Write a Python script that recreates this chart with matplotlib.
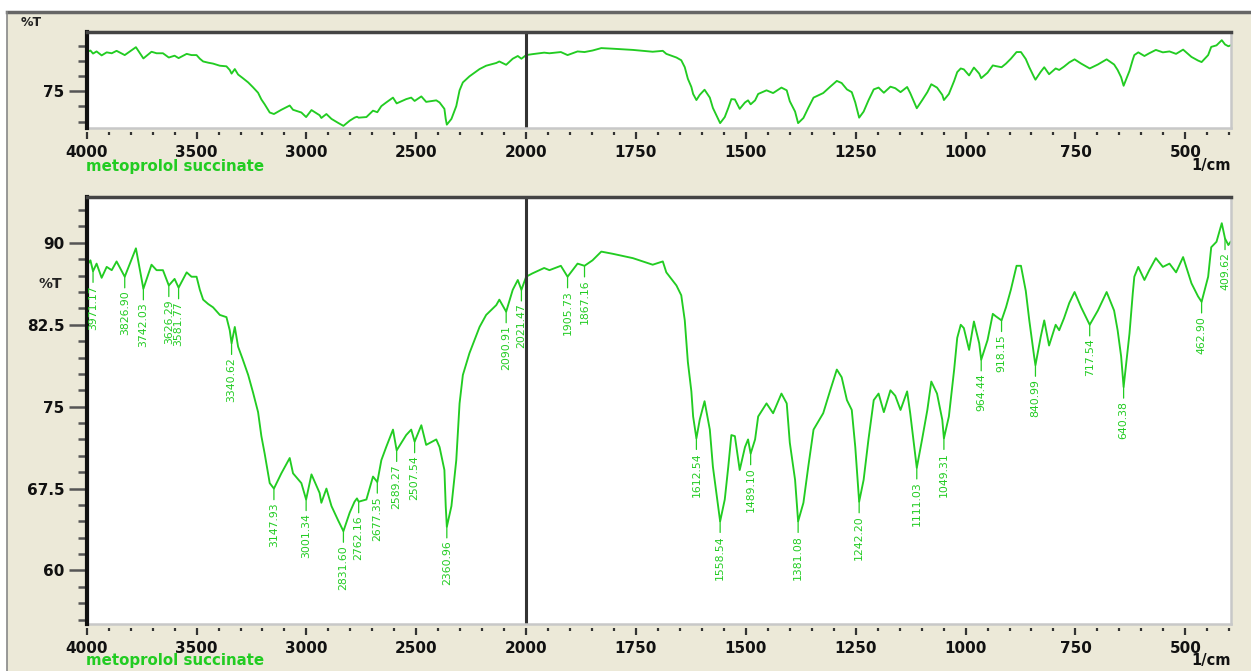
import numpy as np
import matplotlib.pyplot as plt
from matplotlib.patches import Rectangle
from matplotlib.lines import Line2D
from matplotlib.ticker import FixedLocator, FixedFormatter

# spectrum (1/cm, %T)
wavenumber = [
    4000, 3983, 3971.17, 3955, 3932, 3909, 3886, 3864, 3826.90, 3776, 3742.03,
    3705, 3682, 3653, 3626.29, 3600, 3581.77, 3545, 3523, 3500, 3485, 3470,
    3447, 3425, 3394, 3364, 3349, 3340.62, 3326, 3311, 3291, 3265, 3243, 3220,
    3205, 3190, 3167, 3147.93, 3114, 3076, 3061, 3023, 3001.34, 2977, 2940,
    2932, 2909, 2886, 2856, 2831.60, 2803, 2781, 2770, 2762.16, 2727, 2697,
    2677.35, 2659, 2637, 2606, 2589.27, 2546, 2523, 2507.54, 2477, 2455, 2409,
    2394, 2372, 2366, 2360.96, 2340, 2318, 2303, 2288, 2258, 2212, 2182, 2136,
    2122, 2090.91, 2061, 2038, 2021.47, 2000,
    1986, 1959, 1947, 1921, 1905.73, 1883, 1867.16, 1849, 1829, 1803, 1757,
    1712, 1689, 1681, 1658, 1647, 1639, 1632, 1624, 1620, 1612.54, 1605, 1594,
    1582, 1575, 1567, 1558.54, 1548, 1540, 1533, 1525, 1514, 1502, 1495,
    1489.10, 1479, 1472, 1453, 1438, 1419, 1407, 1400, 1388, 1381.08, 1369,
    1358, 1346, 1324, 1308, 1293, 1282, 1270, 1259, 1251, 1242.20, 1232, 1221,
    1209, 1198, 1186, 1171, 1160, 1148, 1133, 1126, 1118, 1111.03, 1099, 1087,
    1078, 1065, 1053, 1049.31, 1038, 1026, 1019, 1011, 1004, 992, 981, 969,
    964.44, 950, 938, 932, 918.15, 908, 897, 884, 874, 863, 855, 844, 840.99,
    829, 821, 810, 795, 787, 776, 764, 752, 737, 717.54, 699, 679, 662, 654,
    646, 640.38, 627, 619.5, 616, 607, 593, 582, 567, 551, 536, 521, 505, 486,
    471, 462.90, 448, 441, 429, 417, 409.62, 402, 397,
]
transmittance = [
    87.9, 88.4, 87.4, 88.1, 86.8, 87.8, 87.5, 88.3, 86.9, 89.5, 85.8,
    88.0, 87.5, 87.5, 86.1, 86.7, 85.9, 87.3, 86.9, 86.9, 85.7, 84.8,
    84.4, 84.1, 83.4, 83.2, 82.0, 80.8, 82.3, 80.5, 79.4, 77.9, 76.3, 74.5,
    72.3, 70.7, 68.0, 67.5, 68.9, 70.3, 68.9, 68.0, 66.5, 68.8, 67.1,
    66.2, 67.5, 65.9, 64.6, 63.6, 65.3, 66.3, 66.6, 66.3, 66.5, 68.6,
    68.1, 70.1, 71.3, 72.9, 71.0, 72.4, 72.9, 71.8, 73.3, 71.5, 72.0,
    71.3, 69.2, 65.9, 64.0, 65.9, 70.1, 75.3, 77.9, 79.9, 82.3, 83.4, 84.3,
    84.8, 83.7, 85.7, 86.6, 85.7, 86.9,
    87.2, 87.7, 87.5, 87.9, 86.9, 88.1, 87.9, 88.4, 89.2, 89.0, 88.6,
    88.0, 88.3, 87.3, 86.1, 85.2, 82.9, 79.1, 76.4, 74.1, 72.1, 73.8, 75.5,
    72.9, 69.5, 67.1, 64.5, 66.5, 69.5, 72.4, 72.3, 69.2, 71.3, 72.0,
    70.7, 72.0, 74.1, 75.3, 74.4, 76.2, 75.3, 71.7, 68.3, 64.5, 66.2,
    69.5, 72.9, 74.4, 76.5, 78.4, 77.7, 75.6, 74.7, 71.3, 66.3, 68.3, 72.0,
    75.6, 76.2, 74.5, 76.5, 76.0, 74.7, 76.4, 74.4, 71.7, 69.4, 72.0, 74.7,
    77.3, 76.2, 73.8, 72.1, 74.1, 78.4, 81.3, 82.5, 82.2, 80.2, 82.8, 80.8,
    79.3, 81.1, 83.5, 83.3, 82.9, 84.1, 85.7, 87.9, 87.9, 85.6, 82.9, 79.6, 78.8,
    81.4, 82.9, 80.6, 82.5, 82.0, 83.1, 84.5, 85.5, 84.1, 82.5, 83.8, 85.5, 83.8, 82.0,
    79.6, 76.8, 81.7, 85.4, 86.9, 87.8, 86.6, 87.5, 88.6, 87.8, 88.1, 87.3, 88.7, 86.3,
    85.1, 84.6, 86.9, 89.6, 90.1, 91.8, 90.4, 89.8, 90.1,
]

peak_wn = [3971.17, 3826.90, 3742.03, 3626.29, 3581.77, 3340.62, 3147.93,
           3001.34, 2831.60, 2762.16, 2677.35, 2589.27, 2507.54, 2360.96,
           2090.91, 2021.47, 1905.73, 1867.16, 1612.54, 1558.54, 1489.10,
           1381.08, 1242.20, 1111.03, 1049.31, 964.44, 918.15, 840.99,
           717.54, 640.38, 462.90, 409.62]

x_major = [4000, 3500, 3000, 2500, 2000, 1750, 1500, 1250, 1000, 750, 500]
x_minor = [3900, 3800, 3700, 3600, 3400, 3300, 3200, 3100, 2900, 2800, 2700,
           2600, 2400, 2300, 2200, 2100, 1950, 1900, 1850, 1800, 1700, 1650,
           1600, 1550, 1450, 1400, 1350, 1300, 1200, 1150, 1100, 1050, 950,
           900, 850, 800, 700, 650, 600, 550, 450, 400]
top_major = [75]
top_minor = [65, 70, 80, 85, 90]
bot_major = [60, 67.5, 75, 82.5, 90]
bot_labels = ['60', '67.5', '75', '82.5', '90']
bot_minor = [55.5, 57, 58.5, 61.5, 63, 64.5, 66, 69, 70.5, 72, 73.5, 76.5, 78,
             79.5, 81, 84, 85.5, 87, 88.5, 91.5, 93]
sample_name = 'metoprolol succinate'

GREEN = '#22cc22'
BEIGE = '#ece9d8'
W, H = 1251, 671

plt.rcParams['font.family'] = 'DejaVu Sans'
plt.rcParams['font.weight'] = 'bold'


def fwd(w):
    # 2000-400 region drawn at twice the scale of 4000-2000
    w = np.asarray(w, dtype=float)
    return np.where(w >= 2000, w, 2 * w - 2000)


def inv(u):
    u = np.asarray(u, dtype=float)
    return np.where(u >= 2000, u, (u + 2000) / 2)


def setup(ax, ylim, ymaj, ylab, ymin):
    ax.plot(wavenumber, transmittance, color=GREEN, lw=1.35)
    ax.set_xscale('function', functions=(fwd, inv))
    ax.set_xlim(4000, 396)
    ax.set_ylim(*ylim)
    ax.axvline(2000, color='#333333', lw=2.2)
    ax.xaxis.set_major_locator(FixedLocator(x_major))
    ax.xaxis.set_major_formatter(FixedFormatter([str(v) for v in x_major]))
    ax.xaxis.set_minor_locator(FixedLocator(x_minor))
    ax.yaxis.set_major_locator(FixedLocator(ymaj))
    ax.yaxis.set_major_formatter(FixedFormatter(ylab))
    ax.yaxis.set_minor_locator(FixedLocator(ymin))
    ax.tick_params(axis='x', which='major', length=5, width=1.6, color='#333333',
                   labelsize=11, pad=4, labelcolor='#111111')
    ax.tick_params(axis='x', which='minor', length=2.2, width=1.6, color='#333333')
    ax.tick_params(axis='y', which='major', length=13, width=1.8, color='#555555',
                   labelsize=11, pad=3, labelcolor='#111111')
    ax.tick_params(axis='y', which='minor', length=6.5, width=1.8, color='#555555')
    ax.spines['left'].set_linewidth(3)
    ax.spines['left'].set_color('#111111')
    ax.spines['top'].set_linewidth(2.5)
    ax.spines['top'].set_color('#444444')
    ax.spines['right'].set_linewidth(1.8)
    ax.spines['right'].set_color('#c8c8c8')
    ax.spines['bottom'].set_position(('outward', 3))
    ax.spines['bottom'].set_color('none')
    ax.plot([0, 1], [0, 0], transform=ax.transAxes, color='#c8c8c8', lw=1.8,
            clip_on=False)
    ax.set_facecolor('white')


fig = plt.figure(figsize=(W / 100, H / 100), dpi=100, facecolor='white')
fig.patches.append(Rectangle((7 / W, 0), 1, 1 - 12 / H, transform=fig.transFigure,
                             facecolor=BEIGE, edgecolor='none', zorder=-10))
fig.add_artist(Line2D([7 / W, 1], [1 - 12 / H] * 2, color='#666666', lw=2.5))
fig.add_artist(Line2D([7 / W] * 2, [0, 1 - 12 / H], color='#888888', lw=1.2))

left = 86.7 / W
width = (1231 - 86.7) / W
ax1 = fig.add_axes([left, 1 - 128.3 / H, width, 96 / H])
ax2 = fig.add_axes([left, 1 - 624 / H, width, 427 / H])

setup(ax1, (62.8, 94.4), top_major, ['75'], top_minor)
setup(ax2, (55.1, 94.2), bot_major, bot_labels, bot_minor)

# peak labels on the lower panel
wn_asc = np.array(wavenumber)[::-1]
tr_asc = np.array(transmittance)[::-1]
for w in peak_wn:
    t = np.interp(w, wn_asc, tr_asc)
    ax2.annotate('%.2f' % w, xy=(w, t), xytext=(0, -10), textcoords='offset points',
                 rotation=90, ha='center', va='top', fontsize=7.8, color=GREEN,
                 fontweight='normal',
                 arrowprops=dict(arrowstyle='-', color=GREEN, lw=0.9,
                                 shrinkA=0, shrinkB=0))

fig.text(31 / W, 1 - 22 / H, '%T', ha='center', va='center', fontsize=9,
         color='#222222')
ax2.text(-0.0216, 86.25, '%T', transform=ax2.get_yaxis_transform(), ha='right',
         va='center', fontsize=10, color='#222222')

for yc, yu in [(166, 165), (661, 661)]:
    fig.text(86 / W, 1 - yc / H, sample_name, ha='left', va='center',
             fontsize=10.8, color=GREEN)
    fig.text(1231 / W, 1 - yu / H, '1/cm', ha='right', va='center',
             fontsize=10.5, color='#111111')

fig.savefig('out.png', dpi=100, facecolor=fig.get_facecolor())
